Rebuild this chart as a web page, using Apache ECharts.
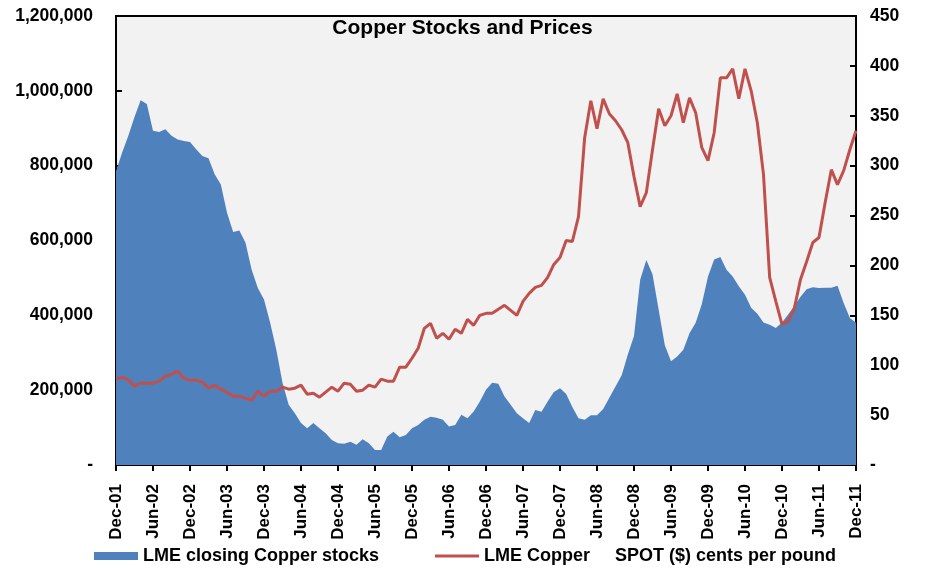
<!DOCTYPE html>
<html>
<head>
<meta charset="utf-8">
<script src="https://cdn.jsdelivr.net/npm/echarts@6/dist/echarts.min.js"></script>
<style>
html,body{margin:0;padding:0;background:#fff;}
#chart{width:925px;height:568px;}
</style>
</head>
<body>
<div id="chart"></div>
<script>
// Month labels Dec-01 .. Dec-11
const monthNames = ['Jan','Feb','Mar','Apr','May','Jun','Jul','Aug','Sep','Oct','Nov','Dec'];
const categories = ['Dec-01'];
for (let y = 2; y <= 11; y++) {
  for (let m = 0; m < 12; m++) {
    categories.push(monthNames[m] + '-' + String(y).padStart(2, '0'));
  }
}

// LME closing copper stocks (tonnes), monthly
const stocks = [
  785000, 835000, 880000, 930000, 975000, 965000, 893000, 890000, 897000, 880000,
  870000, 866000, 863000, 844000, 826000, 820000, 777000, 750000, 674000, 623000,
  627000, 594000, 522000, 473000, 442000, 380000, 308000, 220000, 161000, 138000,
  112000, 98000, 112000, 98000, 85000, 67000, 58000, 57000, 62000, 54000,
  69000, 58000, 40000, 40000, 76000, 89000, 74000, 80000, 98000, 107000,
  121000, 129000, 126000, 121000, 103000, 107000, 134000, 125000, 143000, 170000,
  201000, 220000, 217000, 183000, 161000, 138000, 125000, 112000, 147000, 142000,
  170000, 195000, 205000, 190000, 155000, 125000, 121000, 133000, 133000, 150000,
  180000, 210000, 240000, 295000, 345000, 495000, 548000, 510000, 415000, 320000,
  277000, 290000, 308000, 352000, 380000, 430000, 504000, 549000, 556000, 522000,
  504000, 478000, 455000, 420000, 404000, 381000, 375000, 366000, 381000, 402000,
  425000, 450000, 470000, 475000, 473000, 474000, 474000, 479000, 433000, 393000, 380000
];

// LME copper spot, cents per pound, monthly
const prices = [
  86, 88, 85, 79, 82, 82, 82, 84, 89, 91,
  94, 87, 85, 85, 83, 77, 80, 76, 73, 69,
  69, 67, 65, 74, 69, 74, 74, 78, 76, 77,
  80, 71, 72, 68, 73, 78, 74, 82, 81, 74,
  75, 80, 78, 86, 84, 84, 98, 98, 107, 117,
  137, 142, 127, 132, 126, 136, 132, 146, 140, 150,
  152, 152, 156, 160, 155, 150, 164, 172, 178, 180,
  188, 201, 208, 225, 224, 249, 328, 365, 337, 367,
  352, 345, 336, 323, 289, 259, 273, 316, 357, 340,
  350, 372, 343, 368, 353, 318, 305, 333, 388, 388,
  397, 367, 397, 375, 343, 291, 188, 164, 141, 144,
  157, 186, 204, 223, 228, 263, 296, 281, 295, 316, 335
];

const stockName = 'LME closing Copper stocks';
const priceName = 'LME Copper     SPOT ($) cents per pound';
const titleText = 'Copper Stocks and Prices';

const FONT = '"Liberation Sans", Arial, sans-serif';
const chart = echarts.init(document.getElementById('chart'), null, {renderer: 'canvas'});

const legendText = {fontFamily: FONT, fontWeight: 'bold', fontSize: 18, color: '#000'};

chart.setOption({
  animation: false,
  backgroundColor: '#ffffff',
  title: {
    text: titleText,
    left: 'center',
    top: 13,
    textStyle: {fontFamily: FONT, fontWeight: 'bold', fontSize: 21, color: '#000'}
  },
  legend: [
    {
      left: 94,
      top: 547,
      padding: 0,
      itemWidth: 44,
      itemHeight: 8,
      itemGap: 5,
      textStyle: legendText,
      data: [{name: stockName, icon: 'rect'}]
    },
    {
      left: 435,
      top: 547,
      padding: 0,
      itemWidth: 44,
      itemHeight: 3,
      textStyle: legendText,
      data: [{name: priceName, icon: 'rect'}]
    }
  ],
  grid: {
    left: 116, right: 69, top: 16, bottom: 103,
    show: true, backgroundColor: '#F2F2F2', borderColor: '#000', borderWidth: 2
  },
  xAxis: {
    type: 'category',
    data: categories,
    boundaryGap: false,
    axisLine: {lineStyle: {color: '#000', width: 2}},
    axisTick: {interval: 5, length: 6, lineStyle: {color: '#000', width: 2}},
    axisLabel: {
      interval: 5, rotate: 90, margin: 19,
      fontFamily: FONT, fontWeight: 'bold', fontSize: 17, color: '#000'
    },
    splitLine: {show: false}
  },
  yAxis: [
    {
      type: 'value', min: 0, max: 1200000, interval: 200000,
      axisLine: {show: true, lineStyle: {color: '#000', width: 2}},
      axisTick: {show: true, inside: true, length: 6, lineStyle: {color: '#000', width: 2}},
      splitLine: {show: false},
      axisLabel: {
        margin: 23,
        fontFamily: FONT, fontWeight: 'bold', fontSize: 17.5, color: '#000',
        formatter: v => v === 0 ? '-' : v.toLocaleString('en-US')
      }
    },
    {
      type: 'value', min: 0, max: 450, interval: 50, position: 'right',
      axisLine: {show: true, lineStyle: {color: '#000', width: 2}},
      axisTick: {show: true, inside: true, length: 6, lineStyle: {color: '#000', width: 2}},
      splitLine: {show: false},
      axisLabel: {
        margin: 14,
        fontFamily: FONT, fontWeight: 'bold', fontSize: 17.5, color: '#000',
        formatter: v => v === 0 ? '-' : String(v)
      }
    }
  ],
  series: [
    {
      name: stockName,
      type: 'line',
      yAxisIndex: 0,
      data: stocks,
      symbol: 'none',
      color: '#4F81BD',
      lineStyle: {width: 0, color: '#4F81BD'},
      areaStyle: {color: '#4F81BD', opacity: 1},
      z: 2
    },
    {
      name: priceName,
      type: 'line',
      yAxisIndex: 1,
      data: prices,
      symbol: 'none',
      color: '#C0504D',
      lineStyle: {width: 3, color: '#C0504D'},
      z: 3
    }
  ]
});
</script>
</body>
</html>
